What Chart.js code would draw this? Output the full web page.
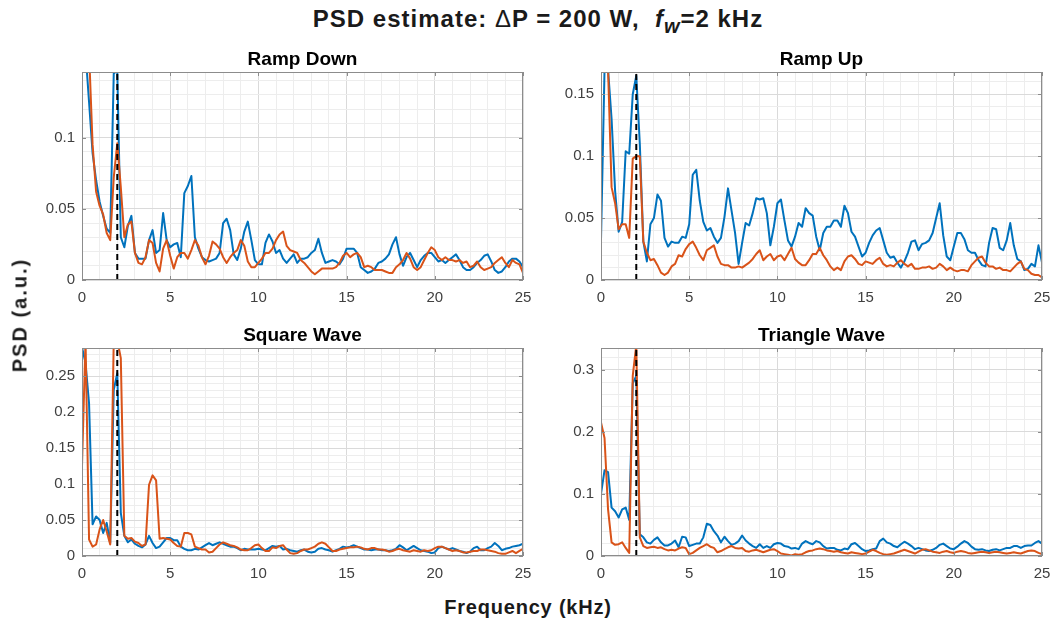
<!DOCTYPE html>
<html>
<head>
<meta charset="utf-8">
<title>PSD estimate</title>
<script src="https://cdn.jsdelivr.net/npm/chart.js@4.4.1/dist/chart.umd.min.js"></script>
<style>
  body { margin: 0; background: #fff; }
  #page { position: relative; width: 1056px; height: 624px; background: #fff; overflow: hidden;
          font-family: "Liberation Sans", Arial, sans-serif; color: #1a1a1a; }
  canvas { position: absolute; }
  #mainTitle { position: absolute; left: 538px; top: 5px; transform: translateX(-50%);
               font-size: 24px; font-weight: bold; letter-spacing: 1px; white-space: nowrap; }
  #mainTitle .delta { font-weight: normal; }
  #yLabel { position: absolute; left: 20px; top: 315px; transform: translate(-50%, -50%) rotate(-90deg);
            font-size: 20px; font-weight: bold; letter-spacing: 2px; white-space: nowrap; }
  #xLabel { position: absolute; left: 528px; top: 607px; transform: translate(-50%, -50%);
            font-size: 20px; font-weight: bold; letter-spacing: 0.8px; white-space: nowrap; }
</style>
</head>
<body>
<div id="page">
  <div id="mainTitle">PSD estimate: <span class="delta">Δ</span>P = 200 W,&nbsp; <i>f<sub>w</sub></i>=2 kHz</div>
  <canvas id="rampDownChart" width="565" height="270" style="left:20px; top:40px"></canvas>
  <canvas id="rampUpChart" width="565" height="270" style="left:539px; top:40px"></canvas>
  <canvas id="squareChart" width="565" height="270" style="left:20px; top:316px"></canvas>
  <canvas id="triangleChart" width="565" height="270" style="left:539px; top:316px"></canvas>
  <div id="yLabel">PSD (a.u.)</div>
  <div id="xLabel">Frequency (kHz)</div>
</div>

<script>
"use strict";

// frekvensaxel, 0 - 25 kHz i steg om 0.2 kHz
const freq = Array.from({ length: 126 }, (_, i) => Math.round(i * 2) / 10);

// fönsterfrekvens (streckad linje)
const fw = 2;

// Ramp Down
const rampDownBlue = [
  0.16, 0.16, 0.125, 0.089, 0.07, 0.055, 0.045, 0.036, 0.033, 0.145,
  0.147, 0.03, 0.023, 0.038, 0.045, 0.019, 0.015, 0.015, 0.015, 0.028,
  0.035, 0.019, 0.021, 0.047, 0.028, 0.023, 0.025, 0.026, 0.016, 0.061,
  0.066, 0.073, 0.03, 0.022, 0.016, 0.014, 0.013, 0.014, 0.015, 0.019,
  0.04, 0.043, 0.035, 0.018, 0.014, 0.022, 0.034, 0.041, 0.028, 0.014,
  0.011, 0.011, 0.026, 0.032, 0.027, 0.019, 0.021, 0.015, 0.012, 0.015,
  0.018, 0.012, 0.015, 0.015, 0.016, 0.019, 0.021, 0.029, 0.019, 0.012,
  0.013, 0.014, 0.013, 0.011, 0.015, 0.022, 0.022, 0.022, 0.019, 0.009,
  0.007, 0.005, 0.006, 0.008, 0.012, 0.013, 0.015, 0.018, 0.025, 0.03,
  0.018, 0.01, 0.016, 0.019, 0.014, 0.009, 0.014, 0.017, 0.019, 0.019,
  0.016, 0.013, 0.014, 0.012, 0.014, 0.016, 0.018, 0.014, 0.009, 0.007,
  0.007, 0.009, 0.012, 0.014, 0.017, 0.018, 0.013, 0.007, 0.005, 0.006,
  0.009, 0.013, 0.015, 0.015, 0.013, 0.009
];
const rampDownOrange = [
  0.146, 0.16, 0.16, 0.095, 0.062, 0.052, 0.046, 0.033, 0.028, 0.072,
  0.096, 0.065, 0.03, 0.039, 0.041, 0.019, 0.012, 0.011, 0.016, 0.028,
  0.026, 0.012, 0.006, 0.022, 0.028, 0.017, 0.008, 0.016, 0.019, 0.019,
  0.015, 0.021, 0.028, 0.024, 0.016, 0.011, 0.017, 0.027, 0.025, 0.022,
  0.016, 0.012, 0.016, 0.019, 0.021, 0.028, 0.024, 0.013, 0.009, 0.009,
  0.012, 0.015, 0.019, 0.019, 0.022, 0.028, 0.032, 0.034, 0.024, 0.021,
  0.02, 0.019, 0.014, 0.012, 0.009, 0.006, 0.004, 0.006, 0.008, 0.008,
  0.008, 0.008, 0.009, 0.012, 0.017, 0.019, 0.016, 0.018, 0.019, 0.016,
  0.009, 0.01, 0.009, 0.007, 0.007, 0.007, 0.006, 0.005, 0.005, 0.009,
  0.011, 0.014, 0.019, 0.015, 0.009, 0.007, 0.009, 0.014, 0.019, 0.023,
  0.021, 0.016, 0.014, 0.016, 0.014, 0.014, 0.013, 0.014, 0.012, 0.013,
  0.009, 0.01, 0.013, 0.009, 0.007, 0.008, 0.009, 0.012, 0.014, 0.016,
  0.012, 0.009, 0.014, 0.012, 0.011, 0.005
];

// Ramp Up
const rampUpBlue = [
  0.032, 0.17, 0.17, 0.13, 0.072, 0.039, 0.047, 0.104, 0.102, 0.15,
  0.165, 0.11, 0.031, 0.015, 0.045, 0.05, 0.069, 0.064, 0.034, 0.027,
  0.031, 0.03, 0.03, 0.035, 0.034, 0.045, 0.085, 0.089, 0.064, 0.047,
  0.04, 0.042, 0.035, 0.03, 0.034, 0.051, 0.074, 0.056, 0.038, 0.013,
  0.03, 0.046, 0.044, 0.054, 0.066, 0.065, 0.066, 0.054, 0.028, 0.043,
  0.062, 0.065, 0.048, 0.032, 0.027, 0.035, 0.046, 0.043, 0.058, 0.054,
  0.052, 0.035, 0.024, 0.038, 0.043, 0.043, 0.048, 0.048, 0.043, 0.06,
  0.054, 0.039, 0.035, 0.027, 0.019, 0.022, 0.03, 0.036, 0.04, 0.042,
  0.032, 0.022, 0.018, 0.019, 0.014, 0.01, 0.015, 0.022, 0.031, 0.032,
  0.024, 0.029, 0.03, 0.032, 0.038, 0.05, 0.062, 0.036, 0.019, 0.016,
  0.027, 0.038, 0.038, 0.033, 0.024, 0.022, 0.022, 0.016, 0.012, 0.011,
  0.03, 0.042, 0.041, 0.026, 0.024, 0.032, 0.046, 0.028, 0.017, 0.015,
  0.008, 0.009, 0.013, 0.011, 0.028, 0.014
];
const rampUpOrange = [
  0.2, 0.2, 0.17, 0.075, 0.062, 0.041, 0.045, 0.045, 0.034, 0.098,
  0.1, 0.1, 0.031, 0.022, 0.016, 0.017, 0.012, 0.006, 0.004, 0.006,
  0.011, 0.013, 0.02, 0.019, 0.025, 0.029, 0.031, 0.026, 0.02, 0.016,
  0.024, 0.026, 0.028, 0.019, 0.013, 0.012, 0.012, 0.01, 0.01, 0.011,
  0.01, 0.012, 0.014, 0.017, 0.021, 0.024, 0.016, 0.019, 0.021, 0.016,
  0.019, 0.02, 0.016, 0.021, 0.026, 0.017, 0.014, 0.012, 0.012, 0.016,
  0.021, 0.021, 0.026, 0.02, 0.016, 0.011, 0.008, 0.01, 0.008, 0.015,
  0.019, 0.02, 0.017, 0.013, 0.012, 0.015, 0.014, 0.013, 0.016, 0.018,
  0.013, 0.011, 0.012, 0.011, 0.014, 0.016, 0.013, 0.011, 0.013, 0.009,
  0.009, 0.01, 0.01, 0.011, 0.009, 0.01, 0.013, 0.011, 0.008, 0.01,
  0.008, 0.007, 0.008, 0.008, 0.007, 0.012, 0.015, 0.018, 0.019, 0.014,
  0.011, 0.011, 0.009, 0.01, 0.008, 0.008, 0.007, 0.01, 0.013, 0.015,
  0.009, 0.008, 0.005, 0.004, 0.004, 0.002
];

// Square Wave
const squareBlue = [
  0.29, 0.268, 0.212, 0.044, 0.055, 0.05, 0.032, 0.046, 0.018, 0.231,
  0.254, 0.06, 0.028, 0.019, 0.023, 0.017, 0.014, 0.012, 0.016, 0.028,
  0.018, 0.011, 0.013, 0.019, 0.025, 0.025, 0.022, 0.022, 0.013, 0.01,
  0.008, 0.008, 0.01, 0.009, 0.012, 0.015, 0.018, 0.015, 0.017, 0.019,
  0.017, 0.015, 0.013, 0.013, 0.011, 0.008, 0.01, 0.009, 0.009, 0.009,
  0.01, 0.009, 0.008, 0.011, 0.014, 0.013, 0.014, 0.009, 0.01, 0.008,
  0.007, 0.006, 0.008, 0.009, 0.006, 0.005, 0.006, 0.01, 0.011, 0.009,
  0.008, 0.006, 0.008, 0.01, 0.013, 0.012, 0.013, 0.015, 0.013, 0.011,
  0.009, 0.009, 0.008, 0.009, 0.009, 0.008, 0.008, 0.007, 0.008, 0.01,
  0.015, 0.012, 0.008, 0.011, 0.014, 0.011, 0.008, 0.007, 0.006, 0.004,
  0.005, 0.011, 0.013, 0.011, 0.009, 0.011, 0.009, 0.007, 0.006, 0.004,
  0.006, 0.011, 0.013, 0.008, 0.008, 0.011, 0.013, 0.018, 0.014, 0.008,
  0.01, 0.011, 0.013, 0.014, 0.015, 0.017
];
const squareOrange = [
  0.125, 0.3, 0.023, 0.013, 0.016, 0.037, 0.05, 0.034, 0.016, 0.3,
  0.3, 0.275, 0.028, 0.024, 0.025, 0.02, 0.018, 0.014, 0.016, 0.099,
  0.112, 0.105, 0.024, 0.025, 0.024, 0.023, 0.018, 0.014, 0.013, 0.032,
  0.032, 0.03, 0.013, 0.011, 0.009, 0.009, 0.005, 0.006, 0.011, 0.016,
  0.019, 0.017, 0.015, 0.014, 0.012, 0.009, 0.008, 0.008, 0.011, 0.015,
  0.016, 0.011, 0.007, 0.007, 0.012, 0.011, 0.014, 0.015, 0.009, 0.004,
  0.003, 0.004, 0.007, 0.009, 0.009, 0.011, 0.013, 0.017, 0.019, 0.017,
  0.012, 0.007, 0.007, 0.009, 0.01, 0.011, 0.012, 0.012, 0.013, 0.012,
  0.01, 0.009, 0.011, 0.011, 0.009, 0.009, 0.008, 0.006, 0.007, 0.009,
  0.01, 0.008, 0.007, 0.006, 0.008, 0.007, 0.006, 0.008, 0.007, 0.008,
  0.011, 0.013, 0.013, 0.011, 0.009, 0.007, 0.008, 0.007, 0.005, 0.005,
  0.006, 0.007, 0.007, 0.009, 0.009, 0.008, 0.007, 0.006, 0.004, 0.003,
  0.003, 0.005, 0.007, 0.004, 0.007, 0.01
];

// Triangle Wave
const triangleBlue = [
  0.1, 0.138, 0.135, 0.078, 0.072, 0.062, 0.075, 0.078, 0.058, 0.278,
  0.29, 0.035, 0.03, 0.022, 0.02, 0.026, 0.03, 0.022, 0.017, 0.017,
  0.02, 0.025, 0.014, 0.031, 0.03, 0.016, 0.018, 0.02, 0.02, 0.03,
  0.052, 0.05, 0.04, 0.033, 0.022, 0.031, 0.024, 0.018, 0.02, 0.024,
  0.033, 0.025, 0.02, 0.016, 0.013, 0.019, 0.013, 0.016, 0.013, 0.019,
  0.021, 0.02, 0.016, 0.015, 0.012, 0.013, 0.011, 0.02, 0.024, 0.021,
  0.019, 0.024, 0.022, 0.016, 0.012, 0.013, 0.013, 0.01, 0.009, 0.012,
  0.011, 0.019, 0.021, 0.016, 0.011, 0.008, 0.009, 0.011, 0.012, 0.024,
  0.028, 0.022, 0.02, 0.016, 0.014, 0.019, 0.023, 0.02, 0.016, 0.011,
  0.013, 0.011, 0.009, 0.008, 0.01, 0.013, 0.018, 0.02, 0.016, 0.012,
  0.011, 0.015, 0.02, 0.024, 0.021, 0.015, 0.011, 0.01, 0.011, 0.009,
  0.008, 0.01, 0.011, 0.009, 0.011, 0.013, 0.013, 0.016, 0.016, 0.013,
  0.016, 0.017, 0.017, 0.021, 0.024, 0.02
];
const triangleOrange = [
  0.215, 0.19, 0.075, 0.022, 0.018, 0.019, 0.022, 0.013, 0.005, 0.29,
  0.34, 0.03, 0.016, 0.013, 0.014, 0.015, 0.013, 0.014, 0.011, 0.009,
  0.01, 0.009, 0.012, 0.014, 0.013, 0.003, 0.005, 0.009, 0.013, 0.016,
  0.019, 0.015, 0.013, 0.006, 0.008, 0.011, 0.014, 0.016, 0.013, 0.012,
  0.013, 0.008, 0.007, 0.009, 0.01, 0.008, 0.006, 0.008, 0.01, 0.011,
  0.008, 0.004, 0.003, 0.002, 0.001, 0.003, 0.002, 0.003, 0.006, 0.008,
  0.009, 0.011, 0.012, 0.011, 0.009, 0.008, 0.007, 0.008, 0.006, 0.005,
  0.004, 0.006, 0.005, 0.004, 0.003, 0.004, 0.007, 0.01, 0.008, 0.005,
  0.003, 0.002, 0.003, 0.004, 0.006, 0.008, 0.01, 0.008, 0.006, 0.004,
  0.007, 0.01, 0.011, 0.009, 0.007, 0.006, 0.005, 0.007, 0.008, 0.006,
  0.005, 0.007, 0.008, 0.007, 0.005, 0.004, 0.005, 0.006, 0.007, 0.006,
  0.005, 0.006, 0.007, 0.006, 0.005, 0.004, 0.005, 0.006, 0.005, 0.004,
  0.006, 0.008, 0.009, 0.008, 0.005, 0.003
];

Chart.defaults.font.family = '"Liberation Sans", Arial, sans-serif';
Chart.defaults.color = '#404040';

const blueColor = '#0072BD';
const orangeColor = '#D95319';

function isMajor(value, step) {
    let r = value / step;
    return Math.abs(r - Math.round(r)) < 1e-6;
}

// ram runt plottytan + inåtriktade tickmarkeringar (som i MATLAB)
const boxPlugin = {
    id: 'box',
    afterDraw(chart, args, opts) {
        const { ctx, chartArea: a, scales } = chart;
        ctx.save();
        ctx.strokeStyle = '#8c8c8c';
        ctx.lineWidth = 1;
        ctx.strokeRect(a.left + 0.5, a.top + 0.5, a.right - a.left - 1, a.bottom - a.top - 1);
        ctx.beginPath();
        scales.x.ticks.forEach(t => {
            if (!isMajor(t.value, 5)) return;
            let px = Math.round(scales.x.getPixelForValue(t.value)) + 0.5;
            ctx.moveTo(px, a.bottom); ctx.lineTo(px, a.bottom - 4);
            ctx.moveTo(px, a.top); ctx.lineTo(px, a.top + 4);
        });
        scales.y.ticks.forEach(t => {
            if (!isMajor(t.value, opts.yMajor)) return;
            let py = Math.round(scales.y.getPixelForValue(t.value)) + 0.5;
            ctx.moveTo(a.left, py); ctx.lineTo(a.left + 4, py);
            ctx.moveTo(a.right, py); ctx.lineTo(a.right - 4, py);
        });
        ctx.stroke();
        ctx.restore();
    }
};

function toPoints(values) {
    return values.map((v, i) => ({ x: freq[i], y: v }));
}

// Skapa ett delfönster
function createPanel(canvasId, title, blue, orange, yMax, yMajor, yMinor) {
    new Chart(document.getElementById(canvasId), {
        type: 'line',
        data: {
            datasets: [
                {
                    data: [{ x: fw, y: 0 }, { x: fw, y: yMax }],
                    borderColor: '#000',
                    borderWidth: 2,
                    borderDash: [6, 4]
                },
                { data: toPoints(orange), borderColor: orangeColor, borderWidth: 2 },
                { data: toPoints(blue), borderColor: blueColor, borderWidth: 2 }
            ]
        },
        options: {
            responsive: false,
            animation: false,
            layout: { padding: 0 },
            elements: {
                point: { radius: 0 },
                line: { tension: 0, borderJoinStyle: 'round' }
            },
            datasets: { line: { clip: 0 } },
            plugins: {
                legend: { display: false },
                tooltip: { enabled: false },
                title: {
                    display: true,
                    text: title,
                    color: '#000',
                    font: { size: 19, weight: 'bold' },
                    padding: { top: 8, bottom: 1.2 }
                },
                box: { yMajor: yMajor }
            },
            scales: {
                x: {
                    type: 'linear',
                    min: 0,
                    max: 25,
                    afterFit: scale => { scale.height = 30; },
                    border: { display: false },
                    grid: {
                        drawTicks: false,
                        color: ctx => isMajor(ctx.tick.value, 5) ? '#dadada' : '#ededed'
                    },
                    ticks: {
                        stepSize: 1,
                        autoSkip: false,
                        maxRotation: 0,
                        maxTicksLimit: 100,
                        padding: 9,
                        font: { size: 15 },
                        callback: v => isMajor(v, 5) ? String(v) : ''
                    }
                },
                y: {
                    type: 'linear',
                    min: 0,
                    max: yMax,
                    afterFit: scale => { scale.width = 62; },
                    border: { display: false },
                    grid: {
                        drawTicks: false,
                        color: ctx => isMajor(ctx.tick.value, yMajor) ? '#dadada' : '#ededed'
                    },
                    ticks: {
                        stepSize: yMinor,
                        includeBounds: false,
                        autoSkip: false,
                        maxTicksLimit: 100,
                        padding: 7,
                        font: { size: 15 },
                        callback: v => isMajor(v, yMajor) ? String(Math.round(v * 1000) / 1000) : ''
                    }
                },
                // tom axel till höger så att titeln centreras över plottytan
                yRight: {
                    type: 'linear',
                    position: 'right',
                    min: 0,
                    max: yMax,
                    afterFit: scale => { scale.width = 62; },
                    border: { display: false },
                    grid: { display: false },
                    ticks: { display: false }
                }
            }
        },
        plugins: [boxPlugin]
    });
}

createPanel('rampDownChart', 'Ramp Down', rampDownBlue, rampDownOrange, 0.146, 0.05, 0.01);
createPanel('rampUpChart', 'Ramp Up', rampUpBlue, rampUpOrange, 0.168, 0.05, 0.01);
createPanel('squareChart', 'Square Wave', squareBlue, squareOrange, 0.289, 0.05, 0.01);
createPanel('triangleChart', 'Triangle Wave', triangleBlue, triangleOrange, 0.335, 0.1, 0.02);
</script>
</body>
</html>
